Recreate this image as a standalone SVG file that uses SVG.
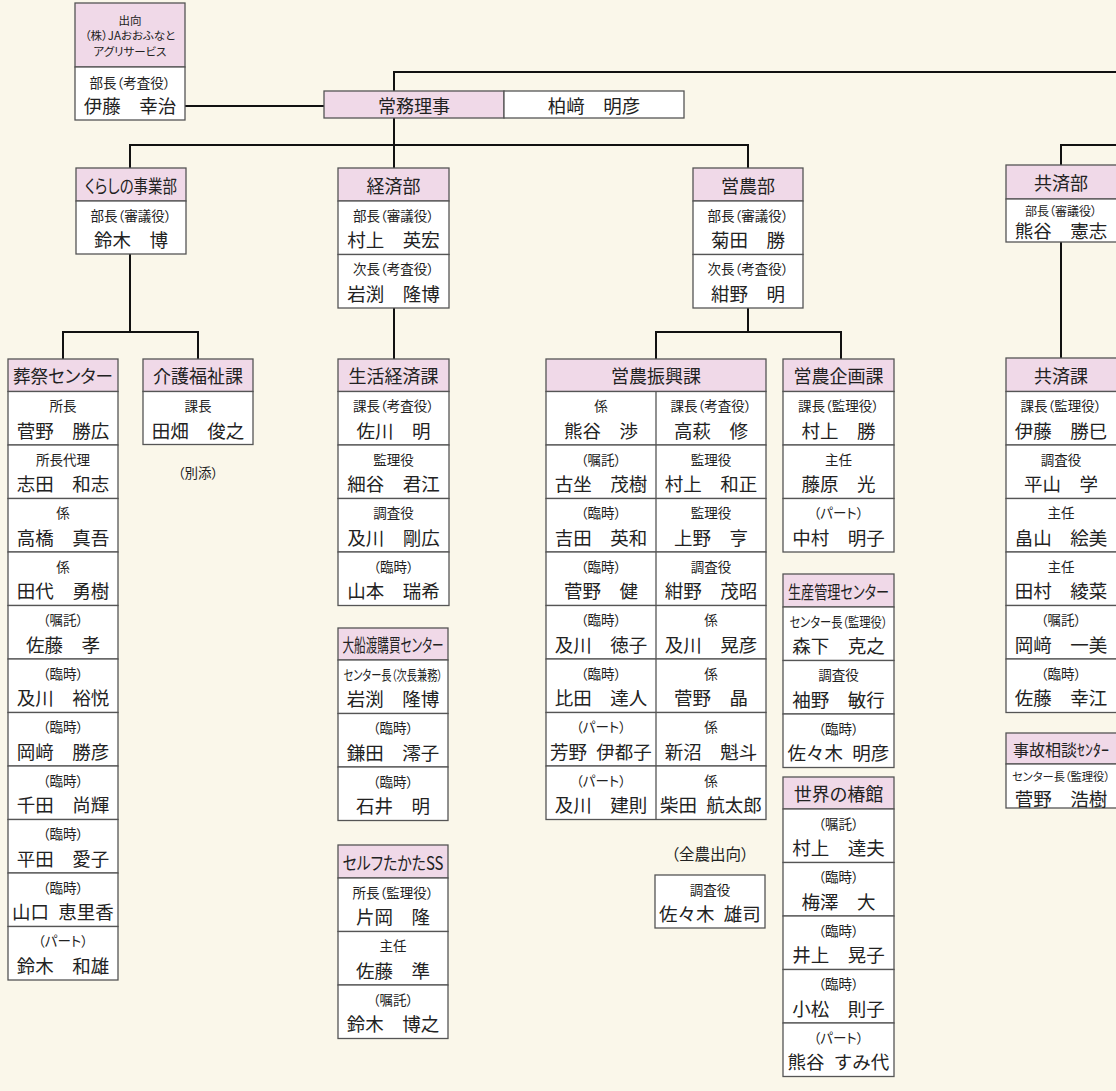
<svg xmlns="http://www.w3.org/2000/svg" width="1116" height="1091" viewBox="0 0 1116 1091">
<style>
.hd{fill:#f0d9e8;stroke:#555;stroke-width:1.3}
.bx{fill:#fff;stroke:#555;stroke-width:1.3}
.sep{stroke:#555;stroke-width:1.3}
.cn{fill:none;stroke:#111;stroke-width:2}
text{font-family:"Noto Sans CJK JP","Noto Sans CJK SC",sans-serif;fill:#222;text-anchor:middle;dominant-baseline:central}
.h{font-size:18px;font-feature-settings:"palt"}
.l{font-size:13.5px;font-feature-settings:"palt"}
.n{font-size:18.5px}
.s{font-size:11.5px;font-feature-settings:"palt"}
</style>
<rect x="0" y="0" width="1116" height="1091" fill="#faf7ea"/>
<g id="connectors">
<path class="cn" d="M185,106 H324"/>
<path class="cn" d="M394,145 V72 H1116"/>
<path class="cn" d="M130,168 V145 H748 V168"/>
<path class="cn" d="M394,145 V168"/>
<path class="cn" d="M1061,165 V145 H1116"/>
<path class="cn" d="M130,254 V332"/>
<path class="cn" d="M63,359 V332 H198 V359"/>
<path class="cn" d="M394,308 V359"/>
<path class="cn" d="M748,308 V332"/>
<path class="cn" d="M656,359 V332 H841 V359"/>
<path class="cn" d="M1061,242 V358"/>
</g>
<g id="n-agri">
<rect class="hd" x="75" y="3" width="110" height="64"/>
<rect class="bx" x="75" y="67" width="110" height="53"/>
<text class="s" x="130" y="20">出向</text>
<text class="s" x="130" y="35">（株）JAおおふなと</text>
<text class="s" x="130" y="51">アグリサービス</text>
<text class="l" x="130" y="82">部長（考査役）</text>
<text class="n" x="130" y="105">伊藤　幸治</text>
</g>
<g id="n-jomu">
<rect class="hd" x="324" y="91" width="180" height="27"/>
<rect class="bx" x="504" y="91" width="180" height="27"/>
<text class="h" x="414" y="104.5">常務理事</text>
<text class="n" x="594" y="104.5">柏﨑　明彦</text>
</g>
<g id="n-kurashi">
<rect class="hd" x="76" y="168" width="110" height="33"/>
<rect class="bx" x="76" y="201" width="110" height="53"/>
<text class="h" x="131" y="184.5" textLength="92" lengthAdjust="spacingAndGlyphs">くらしの事業部</text>
<text class="l" x="131" y="214.5">部長（審議役）</text>
<text class="n" x="131" y="239">鈴木　博</text>
</g>
<g id="n-sosai">
<rect class="hd" x="8" y="359" width="110" height="32.5"/>
<text class="h" x="63" y="375" textLength="100" lengthAdjust="spacingAndGlyphs">葬祭センター</text>
<rect class="bx" x="8" y="391.5" width="110" height="53.5"/>
<text class="l" x="63" y="405">所長</text><text class="n" x="63" y="429.5">菅野　勝広</text>
<rect class="bx" x="8" y="445" width="110" height="53.5"/>
<text class="l" x="63" y="458.5">所長代理</text><text class="n" x="63" y="483">志田　和志</text>
<rect class="bx" x="8" y="498.5" width="110" height="53.5"/>
<text class="l" x="63" y="512">係</text><text class="n" x="63" y="536.5">高橋　真吾</text>
<rect class="bx" x="8" y="552" width="110" height="53.5"/>
<text class="l" x="63" y="565.5">係</text><text class="n" x="63" y="590">田代　勇樹</text>
<rect class="bx" x="8" y="605.5" width="110" height="53.5"/>
<text class="l" x="63" y="619">（嘱託）</text><text class="n" x="63" y="643.5">佐藤　孝</text>
<rect class="bx" x="8" y="659" width="110" height="53.5"/>
<text class="l" x="63" y="672.5">（臨時）</text><text class="n" x="63" y="697">及川　裕悦</text>
<rect class="bx" x="8" y="712.5" width="110" height="53.5"/>
<text class="l" x="63" y="726">（臨時）</text><text class="n" x="63" y="750.5">岡﨑　勝彦</text>
<rect class="bx" x="8" y="766" width="110" height="53.5"/>
<text class="l" x="63" y="779.5">（臨時）</text><text class="n" x="63" y="804">千田　尚輝</text>
<rect class="bx" x="8" y="819.5" width="110" height="53.5"/>
<text class="l" x="63" y="833">（臨時）</text><text class="n" x="63" y="857.5">平田　愛子</text>
<rect class="bx" x="8" y="873" width="110" height="53.5"/>
<text class="l" x="63" y="886.5">（臨時）</text><text class="n" x="63" y="911">山口&#8194;恵里香</text>
<rect class="bx" x="8" y="926.5" width="110" height="53.5"/>
<text class="l" x="63" y="940">（パート）</text><text class="n" x="63" y="964.5">鈴木　和雄</text>
</g>
<g id="n-kaigo">
<rect class="hd" x="143" y="359" width="110" height="32.5"/>
<rect class="bx" x="143" y="391.5" width="110" height="53"/>
<text class="h" x="198" y="375">介護福祉課</text>
<text class="l" x="198" y="405">課長</text>
<text class="n" x="198" y="429.5">田畑　俊之</text>
<text class="l" x="198" y="472">（別添）</text>
</g>
<g id="n-keizai">
<rect class="hd" x="338" y="168" width="111" height="33"/>
<text class="h" x="393.5" y="184.5">経済部</text>
<rect class="bx" x="338" y="201" width="111" height="53.5"/>
<text class="l" x="393.5" y="214.5">部長（審議役）</text><text class="n" x="393.5" y="239">村上　英宏</text>
<rect class="bx" x="338" y="254.5" width="111" height="53.5"/>
<text class="l" x="393.5" y="268">次長（考査役）</text><text class="n" x="393.5" y="292.5">岩渕　隆博</text>
</g>
<g id="n-seikatsu">
<rect class="hd" x="338" y="359" width="111" height="32.5"/>
<text class="h" x="393.5" y="375">生活経済課</text>
<rect class="bx" x="338" y="391.5" width="111" height="53.5"/>
<text class="l" x="393.5" y="405">課長（考査役）</text><text class="n" x="393.5" y="429.5">佐川　明</text>
<rect class="bx" x="338" y="445" width="111" height="53.5"/>
<text class="l" x="393.5" y="458.5">監理役</text><text class="n" x="393.5" y="483">細谷　君江</text>
<rect class="bx" x="338" y="498.5" width="111" height="53.5"/>
<text class="l" x="393.5" y="512">調査役</text><text class="n" x="393.5" y="536.5">及川　剛広</text>
<rect class="bx" x="338" y="552" width="111" height="53.5"/>
<text class="l" x="393.5" y="565.5">（臨時）</text><text class="n" x="393.5" y="590">山本　瑞希</text>
</g>
<g id="n-ofunato">
<rect class="hd" x="338" y="628" width="110" height="32"/>
<text class="h" x="393" y="644" textLength="101" lengthAdjust="spacingAndGlyphs">大船渡購買センター</text>
<rect class="bx" x="338" y="660" width="110" height="53.5"/>
<text class="l" x="393" y="673.5" textLength="99" lengthAdjust="spacingAndGlyphs">センター長（次長兼務）</text><text class="n" x="393" y="698">岩渕　隆博</text>
<rect class="bx" x="338" y="713.5" width="110" height="53.5"/>
<text class="l" x="393" y="727">（臨時）</text><text class="n" x="393" y="751.5">鎌田　澪子</text>
<rect class="bx" x="338" y="767" width="110" height="53.5"/>
<text class="l" x="393" y="780.5">（臨時）</text><text class="n" x="393" y="805">石井　明</text>
</g>
<g id="n-self">
<rect class="hd" x="338" y="845" width="110" height="33"/>
<text class="h" x="393" y="861.5" textLength="101" lengthAdjust="spacingAndGlyphs">セルフたかたSS</text>
<rect class="bx" x="338" y="878" width="110" height="53.5"/>
<text class="l" x="393" y="891.5">所長（監理役）</text><text class="n" x="393" y="916">片岡　隆</text>
<rect class="bx" x="338" y="931.5" width="110" height="53.5"/>
<text class="l" x="393" y="945">主任</text><text class="n" x="393" y="969.5">佐藤　準</text>
<rect class="bx" x="338" y="985" width="110" height="53.5"/>
<text class="l" x="393" y="998.5">（嘱託）</text><text class="n" x="393" y="1023">鈴木　博之</text>
</g>
<g id="n-einou">
<rect class="hd" x="693" y="168" width="110" height="33"/>
<text class="h" x="748" y="184.5">営農部</text>
<rect class="bx" x="693" y="201" width="110" height="53.5"/>
<text class="l" x="748" y="214.5">部長（審議役）</text><text class="n" x="748" y="239">菊田　勝</text>
<rect class="bx" x="693" y="254.5" width="110" height="53.5"/>
<text class="l" x="748" y="268">次長（考査役）</text><text class="n" x="748" y="292.5">紺野　明</text>
</g>
<g id="n-shinko">
<rect class="hd" x="546" y="359" width="220" height="32.5"/>
<text class="h" x="656" y="375">営農振興課</text>
<rect class="bx" x="546" y="391.5" width="220" height="53.5"/>
<rect class="bx" x="546" y="445" width="220" height="53.5"/>
<rect class="bx" x="546" y="498.5" width="220" height="53.5"/>
<rect class="bx" x="546" y="552" width="220" height="53.5"/>
<rect class="bx" x="546" y="605.5" width="220" height="53.5"/>
<rect class="bx" x="546" y="659" width="220" height="53.5"/>
<rect class="bx" x="546" y="712.5" width="220" height="53.5"/>
<rect class="bx" x="546" y="766" width="220" height="53.5"/>
<line class="sep" x1="656" y1="391.5" x2="656" y2="819.5"/>
<text class="l" x="601" y="405">係</text><text class="n" x="601" y="429.5">熊谷　渉</text>
<text class="l" x="711" y="405">課長（考査役）</text><text class="n" x="711" y="429.5">高萩　修</text>
<text class="l" x="601" y="458.5">（嘱託）</text><text class="n" x="601" y="483">古坐　茂樹</text>
<text class="l" x="711" y="458.5">監理役</text><text class="n" x="711" y="483">村上　和正</text>
<text class="l" x="601" y="512">（臨時）</text><text class="n" x="601" y="536.5">吉田　英和</text>
<text class="l" x="711" y="512">監理役</text><text class="n" x="711" y="536.5">上野　亨</text>
<text class="l" x="601" y="565.5">（臨時）</text><text class="n" x="601" y="590">菅野　健</text>
<text class="l" x="711" y="565.5">調査役</text><text class="n" x="711" y="590">紺野　茂昭</text>
<text class="l" x="601" y="619">（臨時）</text><text class="n" x="601" y="643.5">及川　徳子</text>
<text class="l" x="711" y="619">係</text><text class="n" x="711" y="643.5">及川　晃彦</text>
<text class="l" x="601" y="672.5">（臨時）</text><text class="n" x="601" y="697">比田　達人</text>
<text class="l" x="711" y="672.5">係</text><text class="n" x="711" y="697">菅野　晶</text>
<text class="l" x="601" y="726">（パート）</text><text class="n" x="601" y="750.5">芳野&#8194;伊都子</text>
<text class="l" x="711" y="726">係</text><text class="n" x="711" y="750.5">新沼　魁斗</text>
<text class="l" x="601" y="779.5">（パート）</text><text class="n" x="601" y="804">及川　建則</text>
<text class="l" x="711" y="779.5">係</text><text class="n" x="711" y="804">柴田&#8194;航太郎</text>
</g>
<g id="n-zennou">
<text class="l" x="710" y="853" style="font-size:15.5px">（全農出向）</text>
<rect class="bx" x="655" y="875" width="110" height="53"/>
<text class="l" x="710" y="888.5">調査役</text><text class="n" x="710" y="913">佐々木&#8194;雄司</text>
</g>
<g id="n-kikaku">
<rect class="hd" x="783" y="359" width="111" height="32.5"/>
<text class="h" x="838.5" y="375">営農企画課</text>
<rect class="bx" x="783" y="391.5" width="111" height="53.5"/>
<text class="l" x="838.5" y="405">課長（監理役）</text><text class="n" x="838.5" y="429.5">村上　勝</text>
<rect class="bx" x="783" y="445" width="111" height="53.5"/>
<text class="l" x="838.5" y="458.5">主任</text><text class="n" x="838.5" y="483">藤原　光</text>
<rect class="bx" x="783" y="498.5" width="111" height="53.5"/>
<text class="l" x="838.5" y="512">（パート）</text><text class="n" x="838.5" y="536.5">中村　明子</text>
</g>
<g id="n-seisan">
<rect class="hd" x="783" y="574" width="111" height="33"/>
<text class="h" x="838.5" y="590.5" textLength="101" lengthAdjust="spacingAndGlyphs">生産管理センター</text>
<rect class="bx" x="783" y="607" width="111" height="53.5"/>
<text class="l" x="838.5" y="620.5" textLength="98" lengthAdjust="spacingAndGlyphs">センター長（監理役）</text><text class="n" x="838.5" y="645">森下　克之</text>
<rect class="bx" x="783" y="660.5" width="111" height="53.5"/>
<text class="l" x="838.5" y="674">調査役</text><text class="n" x="838.5" y="698.5">袖野　敏行</text>
<rect class="bx" x="783" y="714" width="111" height="53.5"/>
<text class="l" x="838.5" y="727.5">（臨時）</text><text class="n" x="838.5" y="752">佐々木&#8194;明彦</text>
</g>
<g id="n-tsubaki">
<rect class="hd" x="783" y="777" width="111" height="32"/>
<text class="h" x="838.5" y="793">世界の椿館</text>
<rect class="bx" x="783" y="809" width="111" height="53.5"/>
<text class="l" x="838.5" y="822.5">（嘱託）</text><text class="n" x="838.5" y="847">村上　達夫</text>
<rect class="bx" x="783" y="862.5" width="111" height="53.5"/>
<text class="l" x="838.5" y="876">（臨時）</text><text class="n" x="838.5" y="900.5">梅澤　大</text>
<rect class="bx" x="783" y="916" width="111" height="53.5"/>
<text class="l" x="838.5" y="929.5">（臨時）</text><text class="n" x="838.5" y="954">井上　晃子</text>
<rect class="bx" x="783" y="969.5" width="111" height="53.5"/>
<text class="l" x="838.5" y="983">（臨時）</text><text class="n" x="838.5" y="1007.5">小松　則子</text>
<rect class="bx" x="783" y="1023" width="111" height="53.5"/>
<text class="l" x="838.5" y="1036.5">（パート）</text><text class="n" x="838.5" y="1061">熊谷&#8194;すみ代</text>
</g>
<g id="n-kyosaibu">
<rect class="hd" x="1006" y="165" width="112" height="34"/>
<text class="h" x="1061" y="182">共済部</text>
<rect class="bx" x="1006" y="199" width="112" height="43"/>
<text class="l" x="1061" y="210.5" style="font-size:12px">部長（審議役）</text><text class="n" x="1061" y="230">熊谷　憲志</text>
</g>
<g id="n-kyosaika">
<rect class="hd" x="1006" y="358" width="112" height="33.5"/>
<text class="h" x="1061" y="375">共済課</text>
<rect class="bx" x="1006" y="391.5" width="112" height="53.5"/>
<text class="l" x="1061" y="405">課長（監理役）</text><text class="n" x="1061" y="429.5">伊藤　勝巳</text>
<rect class="bx" x="1006" y="445" width="112" height="53.5"/>
<text class="l" x="1061" y="458.5">調査役</text><text class="n" x="1061" y="483">平山　学</text>
<rect class="bx" x="1006" y="498.5" width="112" height="53.5"/>
<text class="l" x="1061" y="512">主任</text><text class="n" x="1061" y="536.5">畠山　絵美</text>
<rect class="bx" x="1006" y="552" width="112" height="53.5"/>
<text class="l" x="1061" y="565.5">主任</text><text class="n" x="1061" y="590">田村　綾菜</text>
<rect class="bx" x="1006" y="605.5" width="112" height="53.5"/>
<text class="l" x="1061" y="619">（嘱託）</text><text class="n" x="1061" y="643.5">岡﨑　一美</text>
<rect class="bx" x="1006" y="659" width="112" height="53.5"/>
<text class="l" x="1061" y="672.5">（臨時）</text><text class="n" x="1061" y="697">佐藤　幸江</text>
</g>
<g id="n-jiko">
<rect class="hd" x="1006" y="733" width="112" height="31"/>
<text class="h" x="1061" y="748.5" style="font-size:16px">事故相談ｾﾝﾀｰ</text>
<rect class="bx" x="1006" y="764" width="112" height="44"/>
<text class="l" x="1061" y="776" style="font-size:11.5px" textLength="98" lengthAdjust="spacingAndGlyphs">センター長（監理役）</text><text class="n" x="1061" y="797.5">菅野　浩樹</text>
</g>
</svg>
